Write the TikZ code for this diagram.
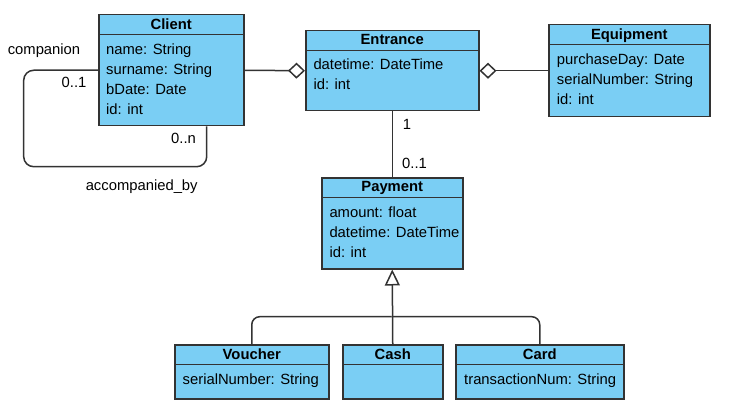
\documentclass[tikz,border=0pt]{standalone}
\usepackage{fontspec}
\setmainfont{Liberation Sans}
\usetikzlibrary{arrows.meta,calc}
\definecolor{clsfill}{HTML}{7ACEF4}
\definecolor{clsline}{HTML}{333333}
\begin{document}
\begin{tikzpicture}[x=1pt,y=-1pt,
  cls/.style={draw=clsline, fill=clsfill, line width=1.5pt, rectangle, inner sep=0pt, anchor=north west},
  ttl/.style={font=\fontsize{14.8}{17}\selectfont\bfseries, inner sep=0pt, text height=10.6pt, text depth=0pt},
  attr/.style={font=\fontsize{14.8}{17}\selectfont, inner sep=0pt, text height=10.6pt, text depth=0pt, anchor=west},
  lbl/.style={font=\fontsize{14.8}{17}\selectfont, inner sep=0pt, text height=10.6pt, text depth=0pt},
  conn/.style={draw=clsline, line width=1.5pt},
  sep/.style={draw=clsline, line width=1.5pt},
  aggr/.style={conn, -{Diamond[open, length=17pt, width=16pt, fill=white]}},
  gen/.style={conn, -{Triangle[open, length=16pt, width=15pt, fill=white]}},
]
\useasboundingbox (0,0) rectangle (743,414);

% Client
\node[cls, minimum width=145pt, minimum height=111pt] (client) at (98,14) {};
\draw[sep] ($(client.north west)+(0,20.5)$) -- ($(client.north east)+(0,20.5)$);
\node[ttl] (clientT) at ($(client.north)+(0,10)$) {Client};
\node[attr] (clientA1) at (106,49.3) {name: String};
\node[attr] (clientA2) at (106,69.3) {surname: String};
\node[attr] (clientA3) at (106,89.3) {bDate: Date};
\node[attr] (clientA4) at (106,109.3) {id: int};

% Entrance
\node[cls, minimum width=173pt, minimum height=80pt] (entrance) at (305,30) {};
\draw[sep] ($(entrance.north west)+(0,20.7)$) -- ($(entrance.north east)+(0,20.7)$);
\node[ttl] (entranceT) at ($(entrance.north)+(0,9.5)$) {Entrance};
\node[attr] (entranceA1) at (313.3,64.3) {datetime: DateTime};
\node[attr] (entranceA2) at (313.3,84.3) {id: int};

% Equipment
\node[cls, minimum width=161pt, minimum height=92pt] (equipment) at (548,24) {};
\draw[sep] ($(equipment.north west)+(0,20.7)$) -- ($(equipment.north east)+(0,20.7)$);
\node[ttl] (equipmentT) at ($(equipment.north)+(0,10)$) {Equipment};
\node[attr] (equipmentA1) at (556.7,59) {purchaseDay: Date};
\node[attr] (equipmentA2) at (556.7,79) {serialNumber: String};
\node[attr] (equipmentA3) at (556.7,99) {id: int};

% Payment
\node[cls, minimum width=141pt, minimum height=91pt] (payment) at (321,177) {};
\draw[sep] ($(payment.north west)+(0,20.3)$) -- ($(payment.north east)+(0,20.3)$);
\node[ttl] (paymentT) at ($(payment.north)+(0,9.5)$) {Payment};
\node[attr] (paymentA1) at (329.3,212.3) {amount: float};
\node[attr] (paymentA2) at (329.3,232) {datetime: DateTime};
\node[attr] (paymentA3) at (329.3,252) {id: int};

% Voucher
\node[cls, minimum width=154pt, minimum height=54pt] (voucher) at (174,344) {};
\draw[sep] ($(voucher.north west)+(0,20.7)$) -- ($(voucher.north east)+(0,20.7)$);
\node[ttl] (voucherT) at ($(voucher.north)+(0,10)$) {Voucher};
\node[attr] (voucherA1) at (182.5,379) {serialNumber: String};

% Cash
\node[cls, minimum width=100pt, minimum height=54pt] (cash) at (342,344) {};
\draw[sep] ($(cash.north west)+(0,20.7)$) -- ($(cash.north east)+(0,20.7)$);
\node[ttl] (cashT) at ($(cash.north)+(0,10)$) {Cash};

% Card
\node[cls, minimum width=168pt, minimum height=54pt] (card) at (455,344) {};
\draw[sep] ($(card.north west)+(0,20.7)$) -- ($(card.north east)+(0,20.7)$);
\node[ttl] (cardT) at ($(card.north)+(0,10)$) {Card};
\node[attr] (cardA1) at (464,379) {transactionNum: String};

% Aggregations
\draw[aggr] (client.east) -- (entrance.west);
\draw[aggr] (equipment.west) -- (entrance.east);

% Entrance - Payment
\draw[conn] (entrance.south) -- (payment.north);
\node[lbl] (one) at (407,124) {1};
\node[lbl] (zeroone) at (414.5,163) {0..1};

% Generalization
\coordinate (gj) at (391.5,316.7);
\draw[conn, rounded corners=8pt] (voucher.north) |- (gj);
\draw[conn, rounded corners=8pt] (card.north) |- (gj);
\draw[gen] (cash.north) -- (payment.south);

% Self association
\coordinate (loopA) at (23.7,166.7);
\coordinate (loopB) at (206.7,166.7);
\draw[conn, rounded corners=10pt] (client.west) -| (loopA) -- (loopB) -- (loopB |- client.south);
\node[lbl] (companion) at (44,49.5) {companion};
\node[lbl] (zerooneL) at (74,82.3) {0..1};
\node[lbl] (zeron) at (183.5,138.7) {0..n};
\node[lbl] (accby) at (141.7,185) {accompanied\_by};
\end{tikzpicture}
\end{document}
